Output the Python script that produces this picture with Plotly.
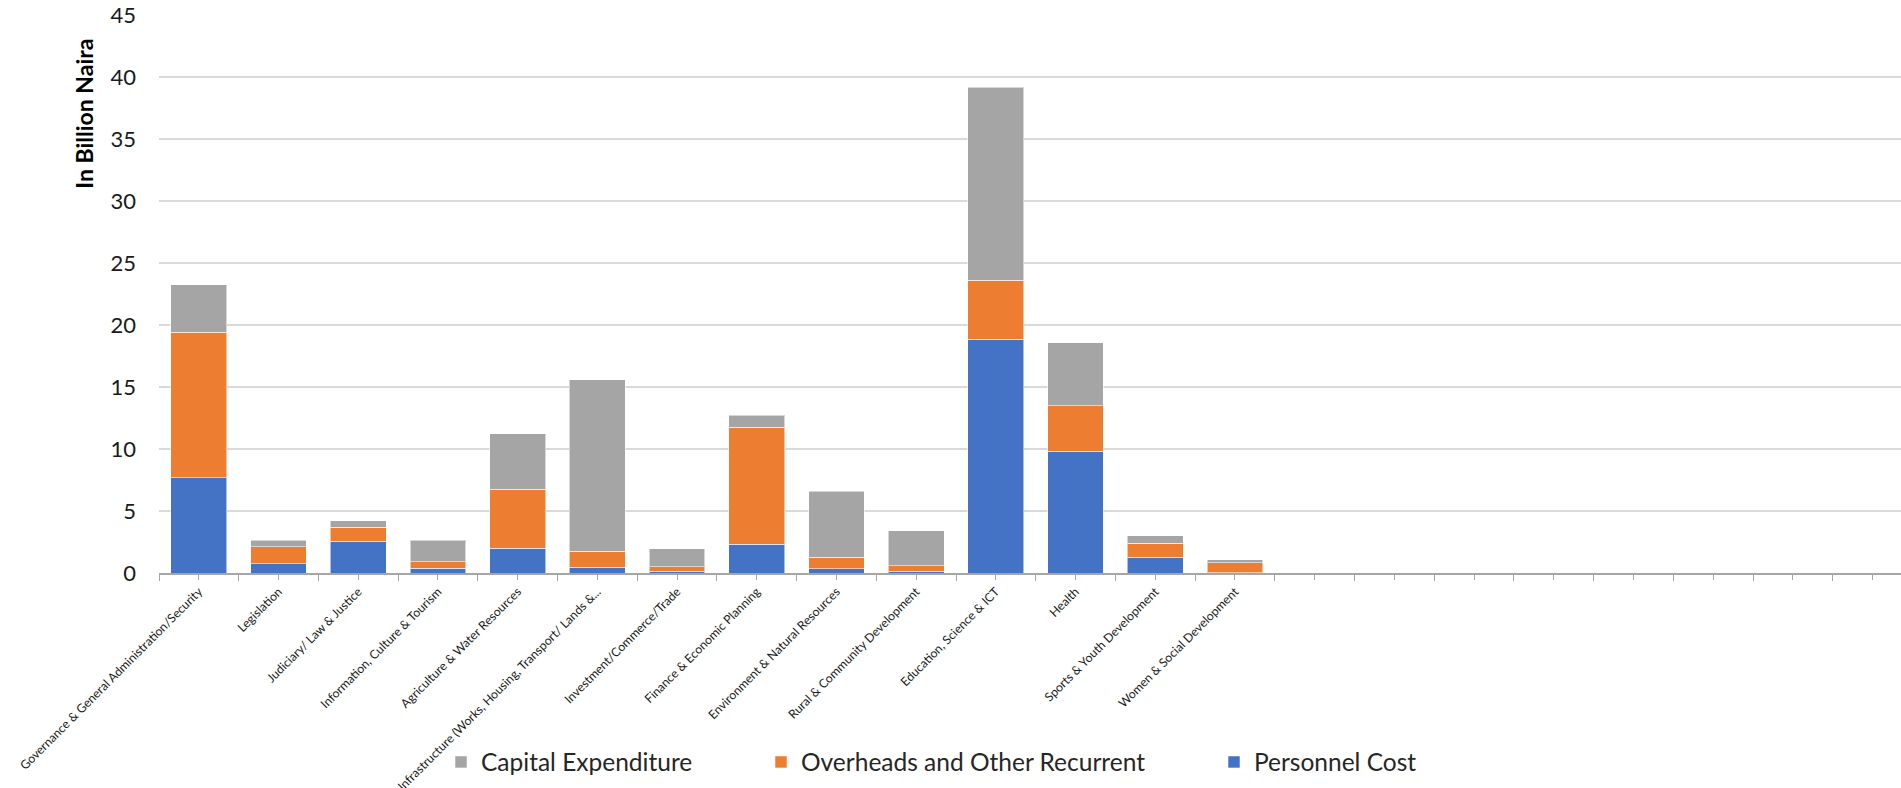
import plotly.graph_objects as go

categories = [
    "Governance & General Administration/Security",
    "Legislation",
    "Judiciary/ Law & Justice",
    "Information, Culture & Tourism",
    "Agriculture & Water Resources",
    "Infrastructure (Works, Housing, Transport/ Lands &...",
    "Investment/Commerce/Trade",
    "Finance & Economic Planning",
    "Environment & Natural Resources",
    "Rural & Community Development",
    "Education, Science & ICT",
    "Health",
    "Sports & Youth Development",
    "Women & Social Development",
]
# empty category slots that follow on the axis in the original chart
empty_slots = ["", "", "", "", "", "", "", ""]

personnel = [7.69, 0.75, 2.55, 0.37, 2.01, 0.48, 0.13, 2.31, 0.35, 0.16, 18.84, 9.81, 1.26, 0.02]
overheads = [11.74, 1.35, 1.13, 0.52, 4.76, 1.26, 0.38, 9.43, 0.94, 0.43, 4.76, 3.68, 1.13, 0.79]
capital = [3.82, 0.56, 0.54, 1.74, 4.46, 13.85, 1.45, 0.97, 5.32, 2.82, 15.56, 5.08, 0.62, 0.24]

series_names = ["Personnel Cost", "Overheads and Other Recurrent", "Capital Expenditure"]
series_colors = ["#4472C4", "#ED7D31", "#A5A5A5"]
y_ticks = [0, 5, 10, 15, 20, 25, 30, 35, 40, 45]

tick_labels = categories + empty_slots
xpos = list(range(len(categories)))
all_pos = list(range(len(tick_labels)))

FONT = "Lato"
W, H = 1901, 788
L, T, B = 159, 15, 215

fig = go.Figure()
legends = ["legend", "legend2", "legend3"]
for name, vals, col, lg in zip(series_names, [personnel, overheads, capital], series_colors, legends):
    fig.add_trace(go.Bar(
        x=xpos, y=vals, name=name, width=0.7,
        marker=dict(color=col, line=dict(color="rgba(255,255,255,0.55)", width=1)),
        legend=lg, showlegend=True,
    ))

plot_w = W - L
cat_px = 79.7
xmax = -0.5 + plot_w / cat_px

def legend_cfg(text_x):
    return dict(
        x=(text_x - 41) / W, xref="container", xanchor="left",
        y=1 - 762 / H, yref="container", yanchor="middle",
        orientation="h", font=dict(family=FONT, size=24.5, color="#262626"),
        bgcolor="rgba(0,0,0,0)", borderwidth=0, itemwidth=30, visible=True,
    )

fig.update_layout(
    width=W, height=H,
    margin=dict(l=L, r=0, t=T, b=B, pad=0, autoexpand=False),
    barmode="stack",
    showlegend=True,
    plot_bgcolor="white", paper_bgcolor="white",
    font=dict(family=FONT, color="#1a1a1a"),
    legend=legend_cfg(1255),
    legend2=legend_cfg(802),
    legend3=legend_cfg(482),
    xaxis=dict(
        range=[-0.5, xmax], automargin=False,
        tickmode="array", tickvals=all_pos, ticktext=tick_labels,
        tickangle=-45, tickfont=dict(family=FONT, size=12.2, color="#1a1a1a"),
        ticks="outside", ticklen=5, tickcolor="#a6a6a6", tickwidth=1.3,
        minor=dict(tick0=0.5, dtick=1, ticks="outside", ticklen=6, tickcolor="#a6a6a6", tickwidth=1.3),
        showline=True, linecolor="#a6a6a6", linewidth=1.5,
        showgrid=False, zeroline=False,
    ),
    yaxis=dict(
        range=[0, 45], tickmode="array", tickvals=y_ticks, automargin=False,
        tickfont=dict(family=FONT, size=22, color="#1a1a1a"),
        showgrid=True, gridcolor="#d9d9d9", gridwidth=1.5,
        zeroline=False, showline=False, ticks="", ticklabelstandoff=22,
    ),
    annotations=[dict(
        text="<b>In Billion Naira</b>", textangle=-90,
        xref="paper", yref="paper",
        x=(84 - L) / plot_w, y=(573.3 - 114) / (573.3 - 15.3),
        xanchor="center", yanchor="middle", showarrow=False,
        font=dict(family=FONT, size=23, color="#000000"),
    )],
)

fig.write_html(
    "out.html",
    config={"displayModeBar": False},
    post_script="document.body.style.margin='0';document.body.style.overflow='hidden';",
)
